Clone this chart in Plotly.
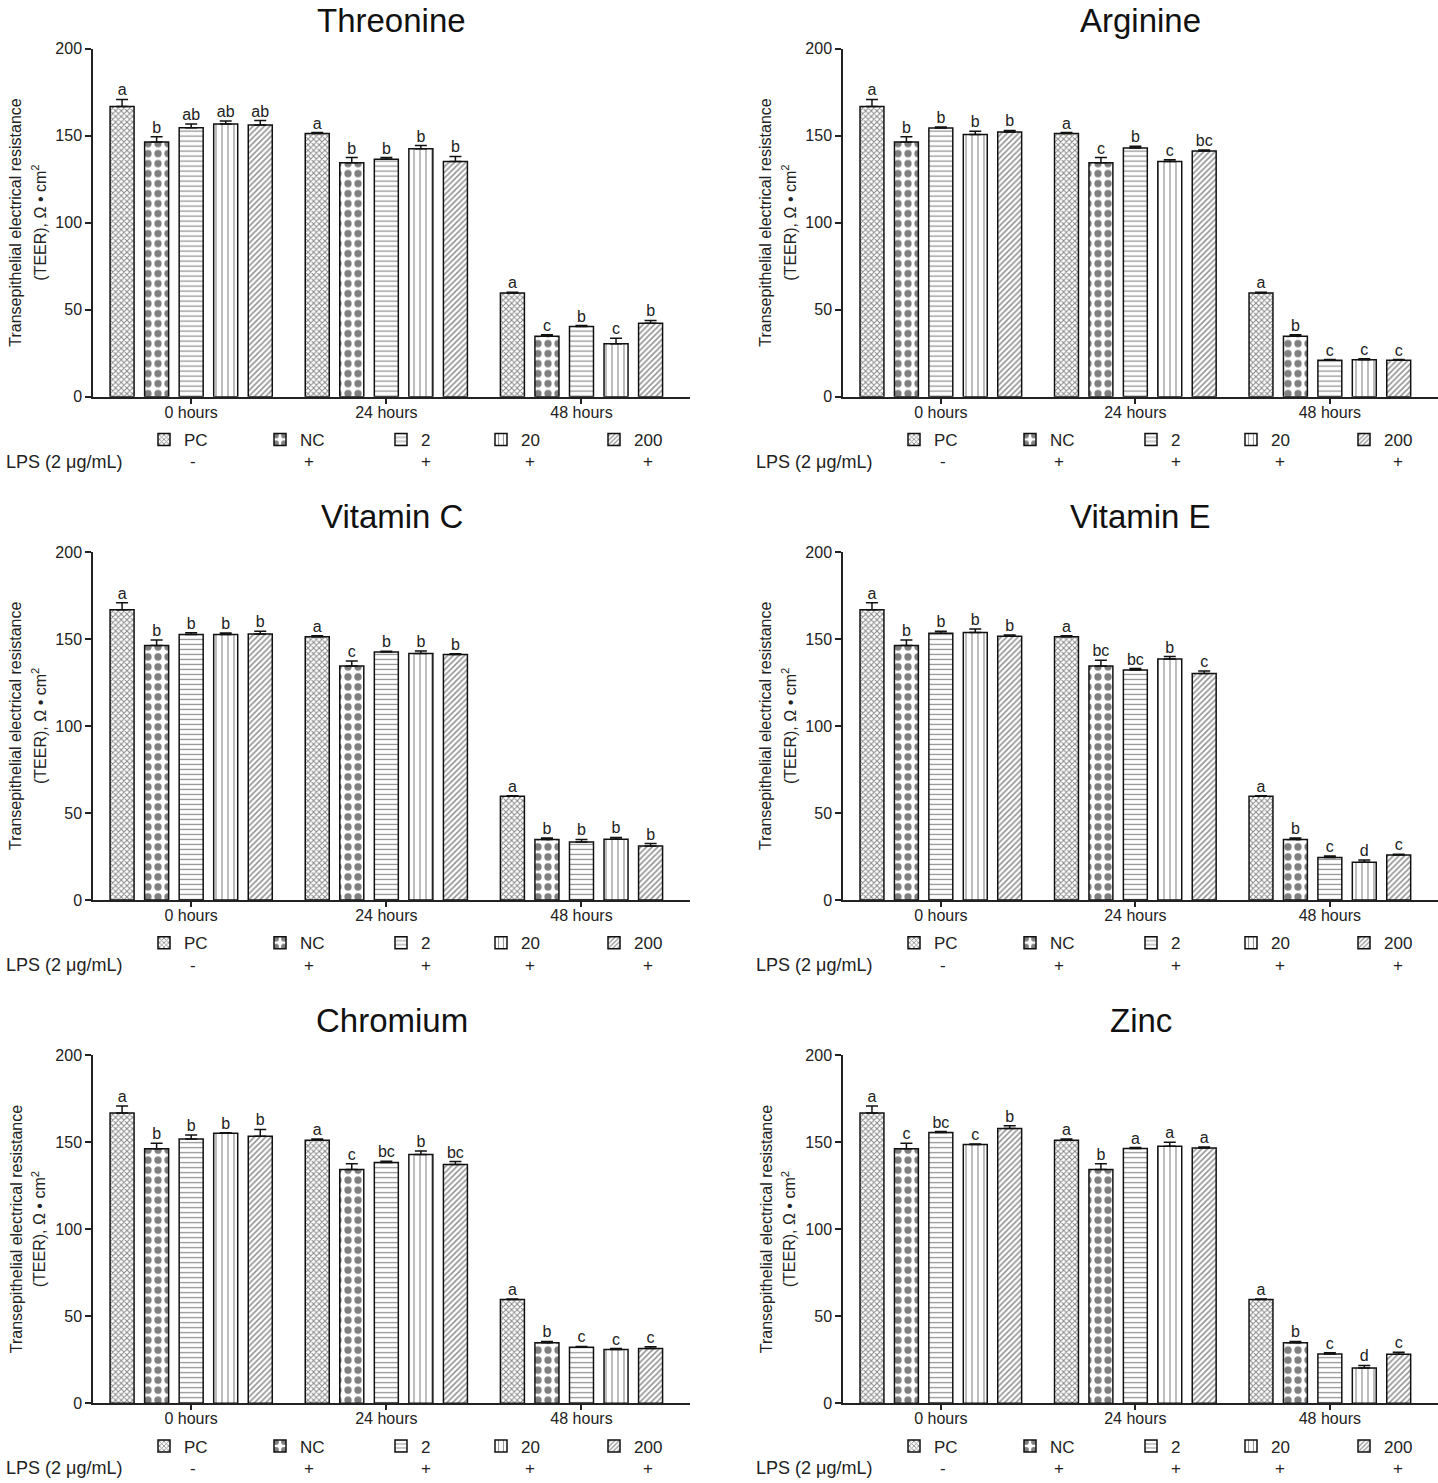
import plotly.graph_objects as go

# ---------------- data ----------------
groups = ["0 hours", "24 hours", "48 hours"]
series = ["PC", "NC", "2", "20", "200"]
lps_signs = ["-", "+", "+", "+", "+"]
lps_label = "LPS (2 μg/mL)"
panel_titles = ["Threonine", "Arginine", "Vitamin C", "Vitamin E", "Chromium", "Zinc"]
y_ticks = [0, 50, 100, 150, 200]
y_title_lines = ["Transepithelial electrical resistance", "(TEER), Ω • cm<sup>2</sup>"]

# rows = time point (0 h, 24 h, 48 h); columns = PC, NC, 2, 20, 200
threonine_mean = [[166.8, 146.3, 154.6, 156.7, 156.1], [151.2, 134.4, 136.4, 142.5, 135.2], [59.6, 34.8, 40.4, 30.5, 42.3]]
threonine_err = [[4.0, 3.1, 2.1, 1.7, 2.6], [0.6, 3.0, 1.0, 1.8, 2.9], [0.4, 0.8, 0.5, 3.2, 1.6]]
threonine_letters = [["a", "b", "ab", "ab", "ab"], ["a", "b", "b", "b", "b"], ["a", "c", "b", "c", "b"]]

arginine_mean = [[166.8, 146.3, 154.4, 150.6, 152.1], [151.2, 134.4, 142.9, 135.2, 141.2], [59.6, 34.8, 21.0, 21.3, 21.0]]
arginine_err = [[4.0, 3.1, 0.6, 1.9, 0.9], [0.6, 3.0, 1.0, 1.0, 0.5], [0.4, 0.8, 0.4, 0.5, 0.4]]
arginine_letters = [["a", "b", "b", "b", "b"], ["a", "c", "b", "c", "bc"], ["a", "b", "c", "c", "c"]]

vitamin_c_mean = [[166.8, 146.3, 152.5, 152.5, 152.9], [151.2, 134.4, 142.5, 141.6, 141.0], [59.6, 34.8, 33.4, 35.0, 31.0]]
vitamin_c_err = [[4.0, 3.1, 1.1, 0.9, 1.5], [0.6, 3.0, 0.5, 1.5, 0.5], [0.4, 0.8, 1.4, 1.0, 1.5]]
vitamin_c_letters = [["a", "b", "b", "b", "b"], ["a", "c", "b", "b", "b"], ["a", "b", "b", "b", "b"]]

vitamin_e_mean = [[166.8, 146.3, 153.3, 153.7, 151.5], [151.2, 134.4, 132.2, 138.5, 130.1], [59.6, 34.8, 24.5, 21.8, 25.9]]
vitamin_e_err = [[4.0, 3.1, 1.1, 2.0, 0.8], [0.6, 3.3, 0.8, 1.4, 1.5], [0.4, 0.8, 0.8, 1.2, 0.5]]
vitamin_e_letters = [["a", "b", "b", "b", "b"], ["a", "bc", "bc", "b", "c"], ["a", "b", "c", "d", "c"]]

chromium_mean = [[166.8, 146.3, 151.9, 155.2, 153.4], [151.2, 134.4, 138.3, 142.9, 137.2], [59.6, 34.8, 32.2, 31.0, 31.5]]
chromium_err = [[4.0, 3.1, 2.3, 0.3, 3.9], [0.6, 3.3, 0.7, 2.0, 1.7], [0.4, 0.8, 0.5, 0.5, 1.0]]
chromium_letters = [["a", "b", "b", "b", "b"], ["a", "c", "bc", "b", "bc"], ["a", "b", "c", "c", "c"]]

zinc_mean = [[166.8, 146.3, 155.6, 148.7, 157.9], [151.2, 134.4, 146.4, 147.7, 146.7], [59.6, 34.8, 28.4, 20.3, 28.2]]
zinc_err = [[4.0, 3.1, 0.5, 0.3, 1.5], [0.6, 3.3, 0.5, 2.3, 0.6], [0.4, 0.8, 0.7, 1.5, 1.1]]
zinc_letters = [["a", "c", "bc", "c", "b"], ["a", "b", "a", "a", "a"], ["a", "b", "c", "d", "c"]]

panel_means = [threonine_mean, arginine_mean, vitamin_c_mean, vitamin_e_mean, chromium_mean, zinc_mean]
panel_errs = [threonine_err, arginine_err, vitamin_c_err, vitamin_e_err, chromium_err, zinc_err]
panel_letters = [threonine_letters, arginine_letters, vitamin_c_letters, vitamin_e_letters, chromium_letters, zinc_letters]

# ---------------- styling ----------------
FONT = "Arial, 'Liberation Sans', Helvetica, sans-serif"
W, H = 1438, 1483
col_left = [93, 843]
col_right = [690, 1438]
row_top = [49, 552, 1055]        # target pixel rows in the picture
row_bottom = [397, 900, 1403]
title_y = [21, 517, 1020]
ytitle_dx = [-77, -54]           # offsets of the two y-title lines from the axis
slot = 0.177
bar_w = 0.123
legend_text_x = [91, 207, 328, 428, 541]

patterns = [
    dict(shape="x", size=4, solidity=0.45, fgcolor="#111", bgcolor="white"),
    dict(shape=".", size=10, solidity=0.42, fgcolor="black", bgcolor="white"),
    dict(shape="-", size=5, solidity=0.25, fgcolor="#222", bgcolor="white"),
    dict(shape="|", size=6, solidity=0.2, fgcolor="#222", bgcolor="white"),
    dict(shape="/", size=4, solidity=0.38, fgcolor="#222", bgcolor="white"),
]


def px_x(x):
    return x / W


def px_y(y):
    # the captured picture maps figure row y to 8.4 + 0.988*y; invert that
    return 1 - ((y - 8.4) / 0.988) / H


fig = go.Figure()
layout = dict(
    width=W, height=H, margin=dict(l=0, r=0, t=0, b=0),
    paper_bgcolor="white", plot_bgcolor="white",
    font=dict(family=FONT, color="#222", size=16),
    barmode="overlay", showlegend=True,
)
annotations = []
legend_count = 0

for p, title in enumerate(panel_titles):
    r, c = divmod(p, 2)
    ax = "" if p == 0 else str(p + 1)
    xa, ya = "x" + ax, "y" + ax
    left, right = col_left[c], col_right[c]
    top, bottom = row_top[r], row_bottom[r]

    layout["xaxis" + ax] = dict(
        domain=[px_x(left), px_x(right)], anchor=ya, range=[-0.503, 2.556],
        tickvals=list(range(len(groups))), ticktext=groups,
        showline=True, linecolor="#222", linewidth=1.5, ticks="outside", ticklen=5,
        tickwidth=1.5, tickcolor="#222", showgrid=False, zeroline=False,
        tickfont=dict(size=16, color="#222"), fixedrange=True,
        ticklabelstandoff=-5,
    )
    layout["yaxis" + ax] = dict(
        domain=[px_y(bottom), px_y(top)], anchor=xa, range=[0, 200],
        tickvals=y_ticks, showline=True, linecolor="#222", linewidth=1.5,
        ticks="outside", ticklen=6, tickwidth=1.5, tickcolor="#222",
        showgrid=False, zeroline=False, tickfont=dict(size=16, color="#222"),
        fixedrange=True,
    )

    means, errs, letters = panel_means[p], panel_errs[p], panel_letters[p]
    for s, name in enumerate(series):
        xs = [g + (s - 2) * slot for g in range(len(groups))]
        ys = [means[g][s] for g in range(len(groups))]
        es = [errs[g][s] for g in range(len(groups))]
        legend_count += 1
        lname = "legend" if legend_count == 1 else f"legend{legend_count}"
        fig.add_trace(go.Bar(
            x=xs, y=ys, width=bar_w, name=name, xaxis=xa, yaxis=ya,
            legend=lname, showlegend=True,
            marker=dict(color="white", pattern=patterns[s],
                        line=dict(color="#111", width=1.5)),
            error_y=dict(type="data", array=es, arrayminus=[0] * len(es),
                         symmetric=False, color="#111", thickness=1.5, width=6),
        ))
        layout[lname] = dict(
            x=px_x(left + legend_text_x[s] - 40), y=px_y(bottom + 43),
            xanchor="left", yanchor="middle", orientation="h",
            bgcolor="rgba(0,0,0,0)", borderwidth=0,
            font=dict(size=17, color="#222", family=FONT),
        )
        annotations.append(dict(
            text=lps_signs[s], x=px_x(left + legend_text_x[s] + 4.5 * len(name)),
            y=px_y(bottom + 65), xref="paper", yref="paper",
            showarrow=False, font=dict(size=17, color="#222"), xanchor="center", yanchor="middle",
        ))

    lx, ly, lt = [], [], []
    for g in range(len(groups)):
        for s in range(len(series)):
            lx.append(g + (s - 2) * slot)
            ly.append(means[g][s] + errs[g][s])
            lt.append(letters[g][s])
    fig.add_trace(go.Scatter(
        x=lx, y=ly, text=lt, mode="text", textposition="top center",
        textfont=dict(size=16, color="#222"), xaxis=xa, yaxis=ya,
        showlegend=False, hoverinfo="skip", cliponaxis=False,
    ))

    annotations.append(dict(
        text=title, x=px_x((left + right) / 2), y=px_y(title_y[r]),
        xref="paper", yref="paper", showarrow=False, xanchor="center", yanchor="middle",
        font=dict(size=33, color="#111"),
    ))
    for line_text, dx in zip(y_title_lines, ytitle_dx):
        annotations.append(dict(
            text=line_text, x=px_x(left + dx), y=px_y((top + bottom) / 2),
            xref="paper", yref="paper", showarrow=False, textangle=-90,
            xanchor="center", yanchor="middle", font=dict(size=16, color="#222"),
        ))
    annotations.append(dict(
        text=lps_label, x=px_x(left - 89), y=px_y(bottom + 65),
        xref="paper", yref="paper", showarrow=False, xanchor="left", yanchor="middle",
        font=dict(size=18, color="#222"),
    ))

layout["annotations"] = annotations
fig.update_layout(**layout)
fig.write_html("out.html", post_script="document.body.style.margin='0';")
